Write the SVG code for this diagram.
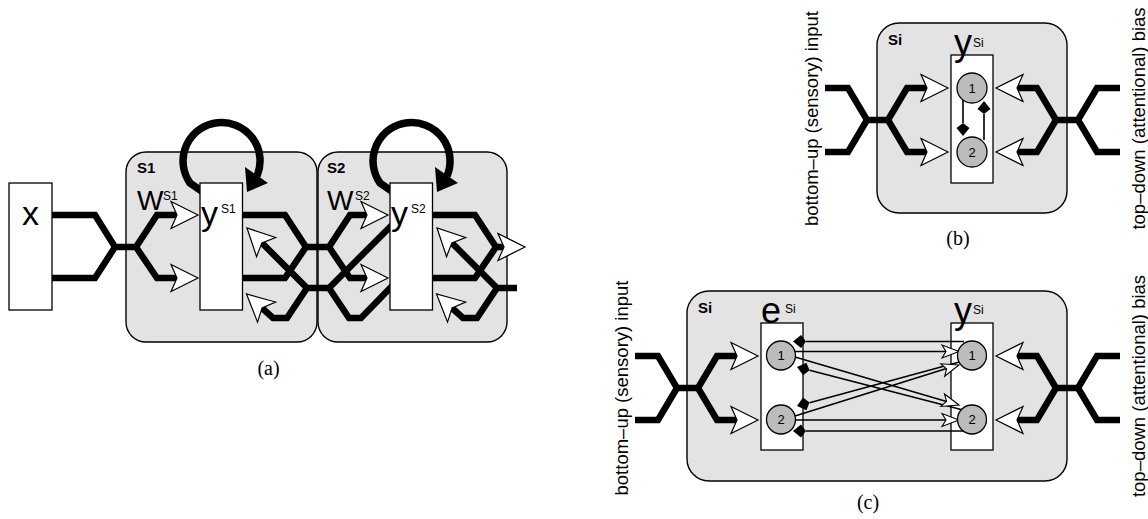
<svg xmlns="http://www.w3.org/2000/svg" xmlns:xlink="http://www.w3.org/1999/xlink" width="1148" height="519" viewBox="0 0 1148 519">
<style>
.panel{fill:#e3e3e3;stroke:#000;stroke-width:1.4}
.box{fill:#fff;stroke:#000;stroke-width:1.3}
.unit{fill:#bcbcbc;stroke:#000;stroke-width:1.3}
.thick{fill:none;stroke:#000;stroke-width:6.5;stroke-linejoin:miter;stroke-miterlimit:10}
.loop{fill:none;stroke:#000;stroke-width:7.5}
.thin{fill:none;stroke:#000;stroke-width:1.6}
.sans{font-family:"Liberation Sans",Arial,sans-serif}
.lbl{font-family:"Liberation Sans",Arial,sans-serif;font-weight:bold;font-size:15px}
.big{font-family:"Liberation Sans",Arial,sans-serif;font-size:34px}
.big2{font-family:"Liberation Sans",Arial,sans-serif;font-size:36px}
.sup{font-family:"Liberation Sans",Arial,sans-serif;font-size:12px}
.num{font-family:"Liberation Sans",Arial,sans-serif;font-size:13px;text-anchor:middle}
.side{font-family:"Liberation Sans",Arial,sans-serif;font-size:18.5px;text-anchor:middle}
.cap{font-family:"Liberation Serif","Times New Roman",serif;font-size:20px;text-anchor:middle}
</style>
<defs>
<path id="wa" d="M0,0 L-27,-13.5 L-21,0 L-27,13.5 Z" fill="#fff" stroke="#000" stroke-width="1.2"/>
<path id="sa" d="M0,0 L-17,-6.5 L-13,0 L-17,6.5 Z" fill="#fff" stroke="#000" stroke-width="1.1"/>
<path id="bd" d="M0,0 L-8,-6.5 L-13,0 L-8,6.5 Z" fill="#000"/>
</defs>

<!-- panel (a) -->
<g id="S1"><rect class="panel" x="126" y="152" width="191" height="190" rx="20"/><text class="lbl" x="137" y="173">S1</text>
<text class="sans" x="137" y="210" font-size="28">W</text><text class="sup" x="163" y="200">S1</text></g>
<g id="S2"><rect class="panel" x="318" y="152" width="189" height="190" rx="20"/><text class="lbl" x="327" y="173">S2</text>
<text class="sans" x="327" y="210" font-size="28">W</text><text class="sup" x="355" y="200">S2</text></g>

<!-- panel (b) -->
<g id="Si-b"><rect class="panel" x="877" y="23" width="190" height="190" rx="22"/><text class="lbl" x="888" y="45">Si</text></g>
<!-- panel (c) -->
<g id="Si-c"><rect class="panel" x="687" y="291" width="380" height="190" rx="22"/><text class="lbl" x="698" y="313">Si</text></g>

<g id="connectors">
<!-- (a) x -> S1 -->
<path class="thick" d="M50,215 H95 L115,247 H136 L157,215 H178 M50,278 H95 L115,247 M136,247 L157,278 H178"/>
<!-- S1 -> S2 -->
<path class="thick" d="M240,215 H285 L306,247 H329 L350,215 H368 M240,278 H285 L306,247 M329,247 L350,278 H368"/>
<!-- S2 -> out -->
<path class="thick" d="M430,215 H475 L496,247 H505 M430,278 H475 L496,247"/>
<!-- S2 -> S1 feedback -->
<path class="thick" d="M395,222 L329,288 H307 L262,243 M329,288 L349,318 H361 L394,284 M307,288 L287,318 H273 L262,308"/>
<!-- external -> S2 feedback -->
<path class="thick" d="M517,288 H497 L452,243 M497,288 L477,318 H463 L452,308"/>
<!-- self loops -->
<path class="loop" d="M203,192 L190,183 A38.5,38.5 0 1 1 257,176"/>
<polygon points="245,167 268,183 247,192" fill="#000"/>
<path class="loop" d="M393,192 L380,183 A38.5,38.5 0 1 1 447,176"/>
<polygon points="435,167 458,183 437,192" fill="#000"/>

<!-- (b) forks -->
<path class="thick" d="M825,88 H848 L867,120 H888 L907,88 H928 M825,152 H848 L867,120 M888,120 L907,152 H928"/>
<path class="thick" d="M1120,88 H1097 L1078,120 H1056 L1037,88 H1016 M1120,152 H1097 L1078,120 M1056,120 L1037,152 H1016"/>
<!-- (c) forks -->
<path class="thick" d="M635,356 H658 L677,388 H698 L717,356 H738 M635,420 H658 L677,388 M698,388 L717,420 H738"/>
<path class="thick" d="M1120,356 H1097 L1078,388 H1056 L1037,356 H1016 M1120,420 H1097 L1078,388 M1056,388 L1037,420 H1016"/>
</g>

<!-- boxes -->
<g id="x"><rect class="box" x="9" y="183" width="43" height="127"/><text class="big" x="30.5" y="225" text-anchor="middle">x</text></g>
<g id="y-S1"><rect class="box" x="200" y="183" width="42.5" height="127"/><text class="big" x="201" y="225">y</text><text class="sup" x="221" y="213">S1</text></g>
<g id="y-S2"><rect class="box" x="390" y="183" width="42.5" height="127"/><text class="big" x="391" y="225">y</text><text class="sup" x="411" y="213">S2</text></g>

<g id="y-b"><rect class="box" x="951" y="55" width="42" height="128"/><text class="big2" x="954" y="55">y</text><text class="sup" x="973" y="47">Si</text></g>
<g id="e-c"><rect class="box" x="761" y="323" width="42" height="127"/><text class="big2" x="761" y="323">e</text><text class="sup" x="785" y="313">Si</text></g>
<g id="y-c"><rect class="box" x="951" y="323" width="42" height="127"/><text class="big2" x="954" y="323">y</text><text class="sup" x="973" y="314">Si</text></g>

<g id="connectors-inner">
<!-- (b) internal -->
<path class="thin" d="M963,100 V123 M984,140 V114"/>
<use xlink:href="#bd" href="#bd" transform="translate(963,136) rotate(90)"/>
<use xlink:href="#bd" href="#bd" transform="translate(984,101) rotate(-90)"/>
<!-- (c) internal -->
<path class="thin" d="M795,351.5 H946 M795,420 H946 M964,341.5 H806 M964,431 H806 M795,357 L946.5,401.5 M795,416 L946.5,368.5 M963,410 L809.6,370.2 M963,361 L809.6,402.8"/>
<use xlink:href="#sa" href="#sa" transform="translate(959,351.5)"/>
<use xlink:href="#sa" href="#sa" transform="translate(959,420)"/>
<use xlink:href="#sa" href="#sa" transform="translate(959,405) rotate(16.4)"/>
<use xlink:href="#sa" href="#sa" transform="translate(959,365) rotate(-17.2)"/>
<use xlink:href="#bd" href="#bd" transform="translate(793,341.5) rotate(180)"/>
<use xlink:href="#bd" href="#bd" transform="translate(793,431) rotate(180)"/>
<use xlink:href="#bd" href="#bd" transform="translate(797,367) rotate(194.5)"/>
<use xlink:href="#bd" href="#bd" transform="translate(797,406) rotate(164.5)"/>
</g>

<g id="units">
<g id="b-y1"><circle class="unit" cx="972" cy="88" r="15"/><text class="num" x="972" y="92.5">1</text></g>
<g id="b-y2"><circle class="unit" cx="972" cy="152" r="15"/><text class="num" x="972" y="156.5">2</text></g>
<g id="c-e1"><circle class="unit" cx="781" cy="355.5" r="14.5"/><text class="num" x="781" y="360">1</text></g>
<g id="c-e2"><circle class="unit" cx="781" cy="419.5" r="14.5"/><text class="num" x="781" y="424">2</text></g>
<g id="c-y1"><circle class="unit" cx="972" cy="355.5" r="14.5"/><text class="num" x="972" y="360">1</text></g>
<g id="c-y2"><circle class="unit" cx="972" cy="419.5" r="14.5"/><text class="num" x="972" y="424">2</text></g>
</g>

<g id="arrowheads">
<use xlink:href="#wa" href="#wa" transform="translate(198,215)"/>
<use xlink:href="#wa" href="#wa" transform="translate(198,278)"/>
<use xlink:href="#wa" href="#wa" transform="translate(388,215)"/>
<use xlink:href="#wa" href="#wa" transform="translate(388,278)"/>
<use xlink:href="#wa" href="#wa" transform="translate(525,247)"/>
<use xlink:href="#wa" href="#wa" transform="translate(247,228) rotate(225)"/>
<use xlink:href="#wa" href="#wa" transform="translate(246.5,294) rotate(222)"/>
<use xlink:href="#wa" href="#wa" transform="translate(437,228) rotate(225)"/>
<use xlink:href="#wa" href="#wa" transform="translate(436.5,294) rotate(222)"/>
<use xlink:href="#wa" href="#wa" transform="translate(948,88)"/>
<use xlink:href="#wa" href="#wa" transform="translate(948,152)"/>
<use xlink:href="#wa" href="#wa" transform="translate(996,88) rotate(180)"/>
<use xlink:href="#wa" href="#wa" transform="translate(996,152) rotate(180)"/>
<use xlink:href="#wa" href="#wa" transform="translate(758,356)"/>
<use xlink:href="#wa" href="#wa" transform="translate(758,420)"/>
<use xlink:href="#wa" href="#wa" transform="translate(996,356) rotate(180)"/>
<use xlink:href="#wa" href="#wa" transform="translate(996,420) rotate(180)"/>
</g>

<g id="labels">
<text class="side" transform="translate(818,118.5) rotate(-90)">bottom–up (sensory) input</text>
<text class="side" transform="translate(1144.5,118.5) rotate(-90)">top–down (attentional) bias</text>
<text class="side" transform="translate(628,388) rotate(-90)">bottom–up (sensory) input</text>
<text class="side" transform="translate(1144.5,386) rotate(-90)">top–down (attentional) bias</text>
<text class="cap" x="268.5" y="374.5">(a)</text>
<text class="cap" x="958" y="244.5">(b)</text>
<text class="cap" x="868" y="509">(c)</text>
</g>
</svg>
